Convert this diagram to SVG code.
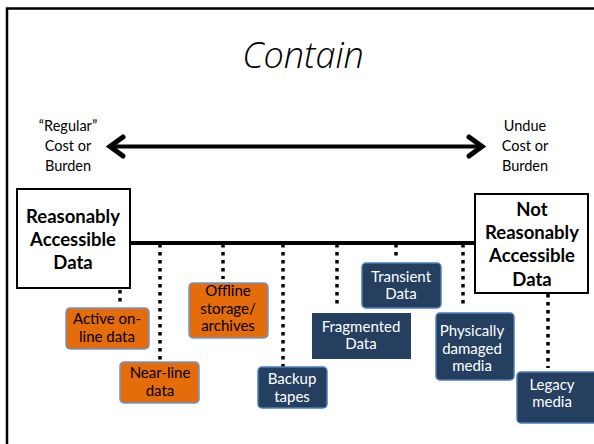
<svg xmlns="http://www.w3.org/2000/svg" width="594" height="444" viewBox="0 0 594 444">
<style>
.lbl{font-family:"Lato","Liberation Sans",sans-serif;font-size:14.5px;fill:#000;text-anchor:middle}
.big{font-family:"Lato","Liberation Sans",sans-serif;font-size:18.5px;font-weight:bold;fill:#000;text-anchor:middle}
.bt{font-family:"Lato","Liberation Sans",sans-serif;font-size:15px;text-anchor:middle}
.or{fill:#E46C0A;stroke:#6F97CF;stroke-width:1.5}
.nv{fill:#243F60;stroke:#4A7EBB;stroke-width:1.5}
.ot{fill:#000}
.wt{fill:#FFFFFF}
.dot{stroke:#000;stroke-width:3.5;stroke-dasharray:3.5 4.5;fill:none}
.box{fill:#fff;stroke:#000;stroke-width:2}
</style>
<rect width="594" height="444" fill="#fff"/>
<path d="M7,450 V8.5 H600" fill="none" stroke="#000" stroke-width="2.5"/>
<text x="303" y="68" font-family="'Open Sans','DejaVu Sans',sans-serif" font-style="italic" font-weight="300" font-size="36" text-anchor="middle" fill="#000">Contain</text>
<g id="labels">
<text class="lbl" x="68" y="131">“Regular”</text>
<text class="lbl" x="68" y="151">Cost or</text>
<text class="lbl" x="68" y="171">Burden</text>
<text class="lbl" x="525" y="131">Undue</text>
<text class="lbl" x="525" y="151">Cost or</text>
<text class="lbl" x="525" y="171">Burden</text>
</g>
<g id="connectors">
<path d="M112,146.5 H482" stroke="#000" stroke-width="4" fill="none"/>
<path d="M123,137 L110,146.5 L123,156 M469,137 L482,146.5 L469,156" stroke="#000" stroke-width="5" fill="none" stroke-linecap="round" stroke-linejoin="miter"/>
<path d="M130,243 H476" stroke="#000" stroke-width="4" fill="none"/>
<path class="dot" d="M120,290 V304"/>
<path class="dot" d="M160,244 V363"/>
<path class="dot" d="M223,244 V279"/>
<path class="dot" d="M283,244 V367"/>
<path class="dot" d="M337,244 V308"/>
<path class="dot" d="M396,244 V259"/>
<path class="dot" d="M463,244 V308"/>
<path class="dot" d="M548,294 V368"/>
</g>
<g id="reasonably">
<rect class="box" x="17" y="189" width="113" height="99"/>
<text class="big" x="73" y="223">Reasonably</text>
<text class="big" x="73" y="246">Accessible</text>
<text class="big" x="73" y="269">Data</text>
</g>
<g id="not-reasonably">
<rect class="box" x="475" y="194" width="113" height="99"/>
<text class="big" x="532" y="216">Not</text>
<text class="big" x="532" y="239">Reasonably</text>
<text class="big" x="532" y="262">Accessible</text>
<text class="big" x="532" y="286">Data</text>
</g>
<g id="active">
<rect class="or" x="66" y="308" width="83" height="41" rx="4"/>
<text class="bt ot" x="107" y="324">Active on-</text>
<text class="bt ot" x="107" y="342">line data</text>
</g>
<g id="nearline">
<rect class="or" x="120" y="362" width="79" height="41" rx="4"/>
<text class="bt ot" x="160" y="378">Near-line</text>
<text class="bt ot" x="160" y="396">data</text>
</g>
<g id="offline">
<rect class="or" x="189" y="283" width="79" height="55" rx="4"/>
<text class="bt ot" x="228" y="296">Offline</text>
<text class="bt ot" x="228" y="314">storage/</text>
<text class="bt ot" x="228" y="331">archives</text>
</g>
<g id="backup">
<rect class="nv" x="258" y="367" width="69" height="41" rx="4"/>
<text class="bt wt" x="292" y="384">Backup</text>
<text class="bt wt" x="292" y="402">tapes</text>
</g>
<g id="fragmented">
<rect x="312" y="313" width="99" height="46" fill="#243F60"/>
<text class="bt wt" x="361" y="332">Fragmented</text>
<text class="bt wt" x="361" y="349">Data</text>
</g>
<g id="transient">
<rect class="nv" x="362" y="263" width="79" height="45" rx="4"/>
<text class="bt wt" x="401" y="282">Transient</text>
<text class="bt wt" x="401" y="299">Data</text>
</g>
<g id="physically">
<rect class="nv" x="436" y="313" width="78" height="67" rx="4"/>
<text class="bt wt" x="472" y="336">Physically</text>
<text class="bt wt" x="472" y="354">damaged</text>
<text class="bt wt" x="472" y="371">media</text>
</g>
<g id="legacy">
<rect class="nv" x="517" y="372" width="90" height="51" rx="4"/>
<text class="bt wt" x="552" y="390">Legacy</text>
<text class="bt wt" x="552" y="407">media</text>
</g>
</svg>
